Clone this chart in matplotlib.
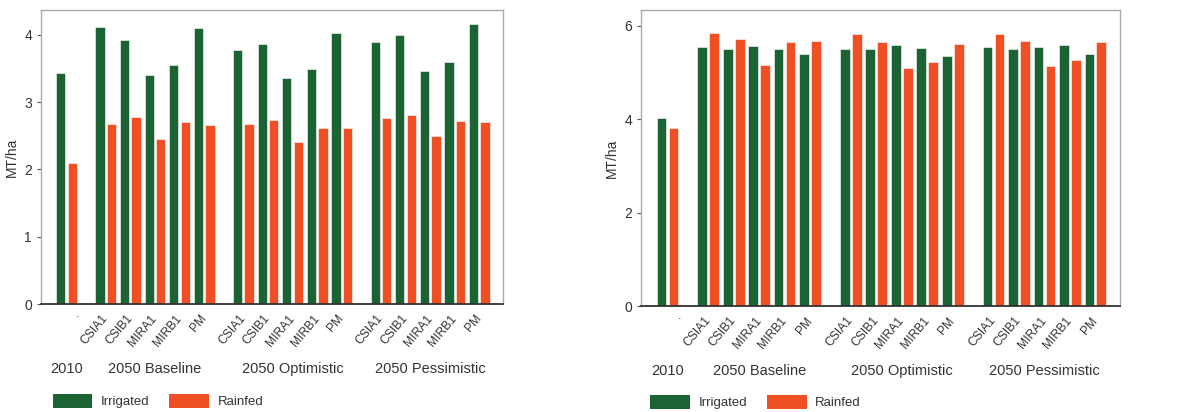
import numpy as np
import matplotlib.pyplot as plt
from matplotlib.patches import Patch

plt.rcParams['font.family'] = ['Liberation Sans', 'DejaVu Sans']

categories = ['', 'CSIA1', 'CSIB1', 'MIRA1', 'MIRB1', 'PM',
              'CSIA1', 'CSIB1', 'MIRA1', 'MIRB1', 'PM',
              'CSIA1', 'CSIB1', 'MIRA1', 'MIRB1', 'PM']
groups = ['2010', '2050 Baseline', '2050 Optimistic', '2050 Pessimistic']
group_sizes = [1, 5, 5, 5]

left_irrigated = [3.43, 4.12, 3.93, 3.40, 3.55, 4.10,
                  3.78, 3.87, 3.36, 3.49, 4.02,
                  3.90, 4.00, 3.46, 3.60, 4.16]
left_rainfed = [2.10, 2.68, 2.78, 2.45, 2.70, 2.66,
                2.67, 2.74, 2.40, 2.62, 2.61,
                2.77, 2.81, 2.49, 2.72, 2.70]

right_irrigated = [4.03, 5.54, 5.50, 5.57, 5.51, 5.39,
                   5.51, 5.50, 5.59, 5.52, 5.36,
                   5.55, 5.51, 5.54, 5.59, 5.40]
right_rainfed = [3.81, 5.84, 5.71, 5.16, 5.66, 5.68,
                 5.82, 5.66, 5.10, 5.23, 5.61,
                 5.83, 5.68, 5.14, 5.26, 5.66]

GREEN = '#1b6332'
RED = '#f04e23'
TXT = '#333333'

# category positions with a gap between scenario groups
pos = []
x = 0.0
for g, n in enumerate(group_sizes):
    for k in range(n):
        pos.append(x)
        x += 1.0
    x += 0.6
pos = np.array(pos)


def draw_panel(ax, irr, rain, ymax, yticks):
    w = 0.38
    ax.bar(pos - 0.235, irr, w, color=GREEN, edgecolor='white', linewidth=0.4)
    ax.bar(pos + 0.235, rain, w, color=RED, edgecolor='white', linewidth=0.4)
    ax.set_xlim(-1.04, pos[-1] + 0.97)
    ax.set_ylim(0, ymax)
    ax.set_yticks(yticks)
    ax.set_xticks(pos)
    ax.set_xticklabels(categories, rotation=50, ha='right', va='center',
                       rotation_mode='anchor', fontsize=8.7, color=TXT)
    ax.tick_params(axis='x', length=0, pad=9)
    ax.tick_params(axis='y', labelsize=10, labelcolor=TXT, length=3,
                   color='#555555')
    ax.set_ylabel('MT/ha', fontsize=10, color=TXT, labelpad=4)
    # the 2010 column only carries a small dot
    ax.text(pos[0] + 0.47, -0.035, '.', transform=ax.get_xaxis_transform(),
            ha='center', va='center', fontsize=9, color=TXT)
    for s in ['top', 'left', 'right']:
        ax.spines[s].set_color('#aaaaaa')
        ax.spines[s].set_linewidth(1.0)
    ax.spines['bottom'].set_color('#333333')
    ax.spines['bottom'].set_linewidth(1.3)
    # scenario group labels
    start = 0
    for name, n in zip(groups, group_sizes):
        c = pos[start:start + n].mean()
        ax.text(c, -0.22, name, transform=ax.get_xaxis_transform(),
                ha='center', va='center', fontsize=10.5, color=TXT)
        start += n


fig = plt.figure(figsize=(11.87, 4.12), dpi=100)
ax1 = fig.add_axes([0.0345, 0.262, 0.3893, 0.714])
ax2 = fig.add_axes([0.540, 0.257, 0.4036, 0.719])

draw_panel(ax1, left_irrigated, left_rainfed, 4.37, [0, 1, 2, 3, 4])
draw_panel(ax2, right_irrigated, right_rainfed, 6.34, [0, 2, 4, 6])

handles = [Patch(facecolor=GREEN, label='Irrigated'),
           Patch(facecolor=RED, label='Rainfed')]
for ax, x0, y0 in [(ax1, 0.0, -0.33), (ax2, -0.005, -0.325)]:
    ax.legend(handles=handles, loc='center left', bbox_to_anchor=(x0, y0),
              ncol=2, frameon=False, fontsize=9.5, handlelength=3.0,
              handleheight=1.2, handletextpad=0.65, columnspacing=1.5,
              labelcolor=TXT)

fig.savefig('out.png', dpi=100)
